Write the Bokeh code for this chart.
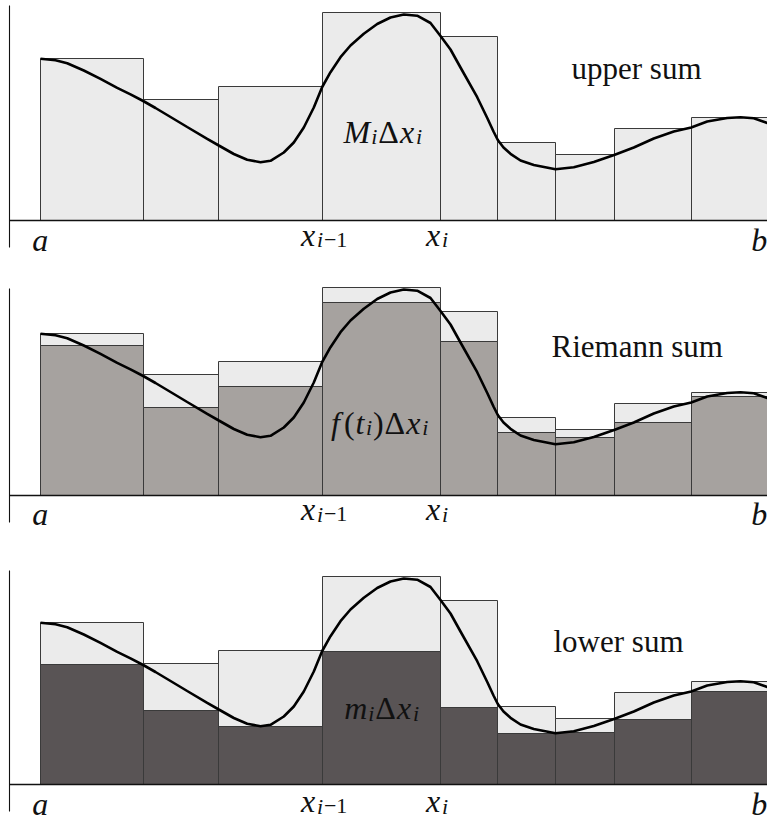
from bokeh.plotting import figure
from bokeh.layouts import column
from bokeh.models import Range1d
from bokeh.core.properties import value
from bokeh.embed import file_html
from bokeh.resources import INLINE

# ---------------- data ----------------
# partition points a = x0 < x1 < ... < x9 = b
partition = [0.40, 1.43, 2.18, 3.22, 4.40, 4.97, 5.55, 6.14, 6.91, 7.70]
# rectangle heights
upper_heights = [1.62, 1.21, 1.34, 2.08, 1.84, 0.78, 0.66, 0.92, 1.03]
riemann_heights = [1.50, 0.88, 1.09, 1.93, 1.54, 0.63, 0.58, 0.73, 0.99]
lower_heights = [1.20, 0.74, 0.58, 1.33, 0.77, 0.51, 0.52, 0.65, 0.93]
# the curve y = f(x)
curve_x = [0.40, 0.55, 0.667, 0.833, 1.00, 1.167, 1.30, 1.427, 1.55, 1.667,
           1.867, 2.067, 2.183, 2.333, 2.467, 2.60, 2.70, 2.833, 2.933, 3.033,
           3.133, 3.217, 3.30, 3.40, 3.50, 3.633, 3.767, 3.90, 4.033, 4.167,
           4.30, 4.40, 4.50, 4.60, 4.767, 4.87, 4.93, 4.973, 5.03, 5.10,
           5.20, 5.333, 5.55, 5.733, 5.933, 6.143, 6.333, 6.533, 6.733, 6.907,
           7.067, 7.267, 7.40, 7.533, 7.667, 7.75]
curve_y = [1.617, 1.602, 1.573, 1.50, 1.417, 1.327, 1.262, 1.195, 1.125, 1.055,
           0.935, 0.817, 0.75, 0.665, 0.607, 0.583, 0.597, 0.68, 0.78, 0.93,
           1.13, 1.335, 1.483, 1.633, 1.75, 1.867, 1.965, 2.03, 2.06, 2.048,
           1.975, 1.845, 1.71, 1.53, 1.233, 1.02, 0.89, 0.805, 0.73, 0.667,
           0.60, 0.555, 0.512, 0.532, 0.585, 0.657, 0.73, 0.82, 0.89, 0.93,
           0.99, 1.025, 1.033, 1.022, 0.975, 0.93]
panel_titles = ["upper sum", "Riemann sum", "lower sum"]

# ---------------- styling ----------------
FONT = "Liberation Serif"
LIGHT = "#ebebeb"
EDGE = "#3a3a3a"
INK = "#111111"
W = 767
MAIN, SUB = 32, 22
LIFT = 0.09   # compensation for where the renderer puts the text baseline

# approximate advance widths (em) of the glyphs used in the math labels
EM = {"M": 0.86, "m": 0.75, "i": 0.32, "x": 0.50, "f": 0.40, "t": 0.33,
      "a": 0.52, "b": 0.52, "(": 0.36, ")": 0.36, "\u0394": 0.68,
      "\u2212": 0.60, "1": 0.50}

def run_width(t, kind):
    size = SUB if kind.startswith("sub") else MAIN
    return sum(EM.get(c, 0.5) for c in t) * size / 100.0

def runs(p, xc, y, items):
    """Place a math-like label as successive text runs, centred at xc."""
    total = sum(run_width(t, k) for t, k in items)
    cx = xc - total / 2.0
    for t, kind in items:
        is_sub = kind.startswith("sub")
        italic = kind.endswith("it")
        p.text(x=[cx], y=[y + LIFT - (0.05 if is_sub else 0.0)], text=[t],
               text_font=value(FONT),
               text_font_style="italic" if italic else "normal",
               text_font_size=f"{SUB if is_sub else MAIN}px",
               text_align="left", text_baseline="alphabetic",
               text_color=INK)
        cx += run_width(t, kind)

lefts = partition[:-1]
rights = partition[1:]

panels = [
    dict(h=270, base=220, axis_top=2.15, tick_dy=0.23, ab_dy=0.28,
         front=None, front_color=None,
         title_x=6.36, title_y=1.433,
         math=[("M", "it"), ("i", "sub_it"), ("\u0394", "rm"), ("x", "it"), ("i", "sub_it")],
         math_x=3.828, math_y=0.80),
    dict(h=282, base=225, axis_top=2.07, tick_dy=0.227, ab_dy=0.275,
         front=riemann_heights, front_color="#a6a29f",
         title_x=6.367, title_y=1.40,
         math=[("f", "it"), ("(", "rm"), ("t", "it"), ("i", "sub_it"), (")", "rm"),
               ("\u0394", "rm"), ("x", "it"), ("i", "sub_it")],
         math_x=3.797, math_y=0.636),
    dict(h=270, base=232, axis_top=2.14, tick_dy=0.255, ab_dy=0.285,
         front=lower_heights, front_color="#595455",
         title_x=6.18, title_y=1.34,
         math=[("m", "it"), ("i", "sub_it"), ("\u0394", "rm"), ("x", "it"), ("i", "sub_it")],
         math_x=3.817, math_y=0.673),
]

figs = []
for k, cfg in enumerate(panels):
    p = figure(width=W, height=cfg["h"], output_backend="svg", toolbar_location=None,
               x_axis_type=None, y_axis_type=None, min_border=0,
               x_range=Range1d(0.0, W / 100.0),
               y_range=Range1d((cfg["base"] - cfg["h"]) / 100.0, cfg["base"] / 100.0))
    p.outline_line_color = None
    p.background_fill_color = "white"
    p.border_fill_color = "white"

    # upper rectangles (light)
    p.quad(left=lefts, right=rights, bottom=[0] * len(lefts), top=upper_heights,
           fill_color=LIGHT, line_color=EDGE, line_width=1)
    # front rectangles
    if cfg["front"] is not None:
        p.quad(left=lefts, right=rights, bottom=[0] * len(lefts), top=cfg["front"],
               fill_color=cfg["front_color"], line_color=EDGE, line_width=1)

    # axes
    p.segment(x0=[0.09], y0=[0], x1=[partition[-1] + 0.1], y1=[0], line_color=INK, line_width=1.3)
    p.segment(x0=[0.09], y0=[-0.27], x1=[0.09], y1=[cfg["axis_top"]], line_color=INK, line_width=1.1)

    # curve
    p.line(curve_x, curve_y, line_color="black", line_width=2.6)

    # title
    p.text(x=[cfg["title_x"]], y=[cfg["title_y"] + LIFT], text=[panel_titles[k]],
           text_font=value(FONT), text_font_size="31px", text_align="center",
           text_baseline="alphabetic", text_color=INK)

    # area label
    runs(p, cfg["math_x"], cfg["math_y"], cfg["math"])

    # tick labels
    runs(p, partition[0], -cfg["ab_dy"], [("a", "it")])
    runs(p, partition[3] + 0.02, -cfg["tick_dy"], [("x", "it"), ("i", "sub_it"), ("\u22121", "sub_rm")])
    runs(p, partition[4] - 0.03, -cfg["tick_dy"], [("x", "it"), ("i", "sub_it")])
    runs(p, partition[-1] - 0.11, -cfg["ab_dy"], [("b", "it")])

    figs.append(p)

layout = column(*figs, spacing=0)
open("out.html", "w").write(file_html(layout, INLINE))
